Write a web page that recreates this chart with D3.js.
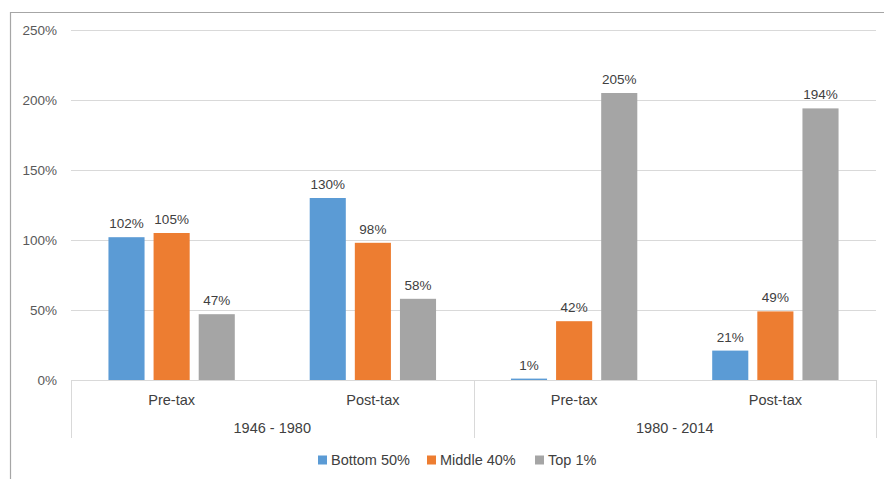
<!DOCTYPE html>
<html>
<head>
<meta charset="utf-8">
<script src="https://cdn.jsdelivr.net/npm/d3@7"></script>
<style>
  html, body { margin: 0; padding: 0; background: #fff; }
  svg { display: block; font-family: "Liberation Sans", Arial, sans-serif; }
</style>
</head>
<body>
<svg id="chart" width="884" height="479"></svg>
<script>
// Growth in income by group, two periods, pre-tax and post-tax
const periods = ["1946 - 1980", "1980 - 2014"];
const measures = ["Pre-tax", "Post-tax"];
const seriesNames = ["Bottom 50%", "Middle 40%", "Top 1%"];
const seriesColors = ["#5B9BD5", "#ED7D31", "#A5A5A5"];
const bottom50 = [102, 130, 1, 21];
const middle40 = [105, 98, 42, 49];
const top1 = [47, 58, 205, 194];
const yTicks = [0, 50, 100, 150, 200, 250];

const seriesValues = [bottom50, middle40, top1];
const categories = [];
periods.forEach(p => measures.forEach(m => categories.push({ key: p + "|" + m, period: p, measure: m })));

const svg = d3.select("#chart");
const margin = { left: 71, right: 8, top: 30, bottom: 99 };
const W = 884, H = 479;
const plotRight = 876;
const y0 = 380;

// Outer frame
svg.append("path")
  .attr("d", `M10.5,${H + 2} L10.5,12.5 L${W + 2},12.5`)
  .attr("fill", "none")
  .attr("stroke", "#a6a6a6")
  .attr("stroke-width", 1.2);

const y = d3.scaleLinear().domain([0, 250]).range([y0, 30]);
const x0 = d3.scaleBand().domain(categories.map(c => c.key)).range([margin.left, plotRight]).padding(0);
const x1 = d3.scaleBand().domain(seriesNames).range([0, x0.bandwidth()]).paddingInner(0.2).paddingOuter(0.83);

// Gridlines and value axis labels
const yAxis = d3.axisLeft(y).tickValues(yTicks).tickFormat(d => d + "%").tickSize(-(plotRight - margin.left)).tickPadding(14);
const gy = svg.append("g").attr("transform", `translate(${margin.left},0)`).call(yAxis);
gy.select(".domain").remove();
gy.selectAll(".tick line").attr("stroke", "#d9d9d9").attr("stroke-width", 1);
gy.selectAll(".tick text").attr("fill", "#595959").style("font-size", "13.5px")
  .attr("font-family", "Liberation Sans, Arial, sans-serif");

// Bars
const groups = svg.append("g").selectAll("g")
  .data(categories)
  .join("g")
  .attr("transform", d => `translate(${x0(d.key)},0)`);

groups.selectAll("rect")
  .data((d, i) => seriesNames.map((s, j) => ({ series: s, value: seriesValues[j][i], color: seriesColors[j] })))
  .join("rect")
  .attr("x", d => x1(d.series))
  .attr("width", x1.bandwidth())
  .attr("y", d => y(d.value))
  .attr("height", d => y0 - y(d.value))
  .attr("fill", d => d.color);

groups.selectAll("text")
  .data((d, i) => seriesNames.map((s, j) => ({ series: s, value: seriesValues[j][i] })))
  .join("text")
  .attr("x", d => x1(d.series) + x1.bandwidth() / 2)
  .attr("y", d => y(d.value) - 9)
  .attr("text-anchor", "middle")
  .attr("fill", "#404040")
  .style("font-size", "13.5px")
  .text(d => d.value + "%");

// Category axis: baseline, separators, two label levels
const xAxisG = svg.append("g");
xAxisG.append("line")
  .attr("x1", margin.left).attr("x2", plotRight)
  .attr("y1", y0 + 0.5).attr("y2", y0 + 0.5)
  .attr("stroke", "#d9d9d9");

const periodScale = d3.scaleBand().domain(periods).range([margin.left, plotRight]);
const sepX = [margin.left, ...periods.map(p => periodScale(p) + periodScale.bandwidth())];
xAxisG.selectAll("line.sep")
  .data(sepX)
  .join("line")
  .attr("class", "sep")
  .attr("x1", d => Math.round(d) + 0.5).attr("x2", d => Math.round(d) + 0.5)
  .attr("y1", y0).attr("y2", 438)
  .attr("stroke", "#d9d9d9");

xAxisG.selectAll("text.measure")
  .data(categories)
  .join("text")
  .attr("class", "measure")
  .attr("x", d => x0(d.key) + x0.bandwidth() / 2)
  .attr("y", 405)
  .attr("text-anchor", "middle")
  .attr("fill", "#404040")
  .style("font-size", "14.5px")
  .text(d => d.measure);

xAxisG.selectAll("text.period")
  .data(periods)
  .join("text")
  .attr("class", "period")
  .attr("x", d => periodScale(d) + periodScale.bandwidth() / 2)
  .attr("y", 433)
  .attr("text-anchor", "middle")
  .attr("fill", "#404040")
  .style("font-size", "14.5px")
  .text(d => d);

// Legend
const legendX = [318, 427, 535];
const legend = svg.append("g").selectAll("g")
  .data(seriesNames)
  .join("g")
  .attr("transform", (d, i) => `translate(${legendX[i]},460)`);
legend.append("rect").attr("x", 0).attr("y", -4.5).attr("width", 9).attr("height", 9)
  .attr("fill", (d, i) => seriesColors[i]);
legend.append("text").attr("x", 13).attr("y", 5)
  .attr("fill", "#404040")
  .style("font-size", "14.5px")
  .text(d => d);
</script>
</body>
</html>
